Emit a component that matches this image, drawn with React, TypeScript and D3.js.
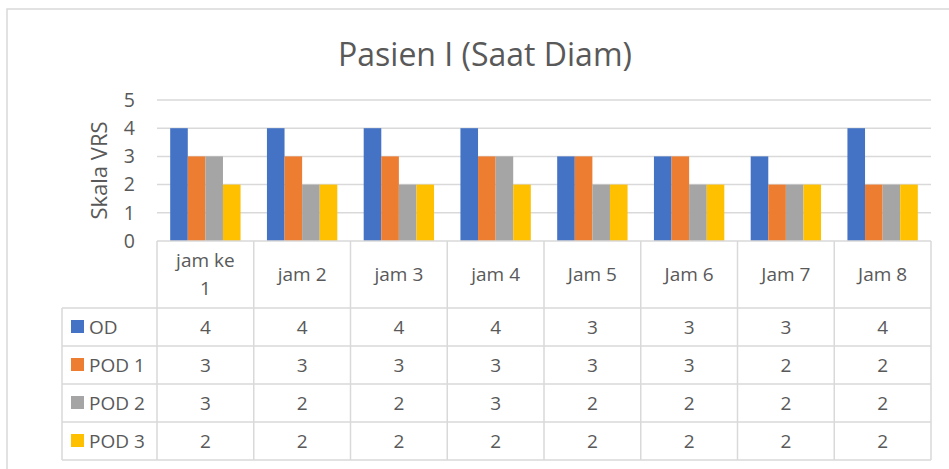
import * as d3 from 'd3'

const categories = ['jam ke\n1', 'jam 2', 'jam 3', 'jam 4', 'Jam 5', 'Jam 6', 'Jam 7', 'Jam 8']
const seriesNames = ['OD', 'POD 1', 'POD 2', 'POD 3']
const seriesColors = ['#4472c4', '#ed7d31', '#a5a5a5', '#ffc000']
const od = [4, 4, 4, 4, 3, 3, 3, 4]
const pod1 = [3, 3, 3, 3, 3, 3, 2, 2]
const pod2 = [3, 2, 2, 3, 2, 2, 2, 2]
const pod3 = [2, 2, 2, 2, 2, 2, 2, 2]
const yTicks = [0, 1, 2, 3, 4, 5]

const values = [od, pod1, pod2, pod3]

const W = 949
const H = 469
const plotLeft = 157
const plotRight = 931
const plotTop = 100
const plotBottom = 241
const legendLeft = 62
const headerBottom = 308
const rowH = 38
const grid = '#d9d9d9'
const textColor = '#595959'
const font = '"Open Sans", "Liberation Sans", sans-serif'
const tableFont = 19

export default function App() {
  const x = d3.scaleBand<string>().domain(categories).range([plotLeft, plotRight]).padding(0)
  const y = d3.scaleLinear().domain([0, 5]).range([plotBottom, plotTop])
  const bw = x.bandwidth()
  const barW = bw / 5.5
  const sub = d3
    .scaleBand<string>()
    .domain(seriesNames)
    .range([barW * 0.75, barW * 4.75])
    .padding(0)

  const rowsY = seriesNames.map((_, i) => headerBottom + i * rowH)
  const tableBottom = headerBottom + seriesNames.length * rowH

  return (
    <svg
      width={W}
      height={H}
      style={{ position: 'absolute', left: 0, top: 0, background: '#fff' }}
      fontFamily={font}
    >
      <rect x={7} y={9} width={W} height={H} fill="#fff" stroke={grid} strokeWidth={1.5} />
      <text x={485} y={66} textAnchor="middle" fontSize={32} fill={textColor}>
        Pasien I (Saat Diam)
      </text>

      {yTicks.map((t) => (
        <g key={t}>
          {t > 0 && (
            <line x1={plotLeft} x2={plotRight} y1={y(t)} y2={y(t)} stroke={grid} strokeWidth={1.5} />
          )}
          <text x={135} y={y(t)} dy="0.35em" textAnchor="end" fontSize={19.5} fill={textColor}>
            {t}
          </text>
        </g>
      ))}
      <text
        transform={`translate(107,${(plotTop + plotBottom) / 2}) rotate(-90)`}
        textAnchor="middle"
        fontSize={22}
        fill={textColor}
      >
        Skala VRS
      </text>

      {values.map((vals, si) =>
        vals.map((v, ci) => (
          <rect
            key={`${si}-${ci}`}
            x={(x(categories[ci]) ?? 0) + (sub(seriesNames[si]) ?? 0)}
            y={y(v)}
            width={sub.bandwidth()}
            height={y(0) - y(v)}
            fill={seriesColors[si]}
          />
        ))
      )}

      {/* data table */}
      <g stroke={grid} strokeWidth={1.5}>
        <line x1={plotLeft} x2={plotRight} y1={plotBottom} y2={plotBottom} />
        {rowsY.concat([tableBottom]).map((ry) => (
          <line key={ry} x1={legendLeft} x2={plotRight} y1={ry} y2={ry} />
        ))}
        <line x1={legendLeft} x2={legendLeft} y1={headerBottom} y2={tableBottom} />
        {categories.map((c) => (
          <line key={c} x1={x(c)} x2={x(c)} y1={plotBottom} y2={tableBottom} />
        ))}
        <line x1={plotRight} x2={plotRight} y1={plotBottom} y2={tableBottom} />
      </g>

      {categories.map((c) => {
        const lines = c.split('\n')
        const cx = (x(c) ?? 0) + bw / 2
        const cy = (plotBottom + headerBottom) / 2
        return (
          <text key={c} x={cx} textAnchor="middle" fontSize={tableFont} fill={textColor}>
            {lines.map((l, i) => (
              <tspan key={i} x={cx} y={cy + (i - (lines.length - 1) / 2) * 28} dy="0.35em">
                {l}
              </tspan>
            ))}
          </text>
        )
      })}

      {seriesNames.map((s, si) => (
        <g key={s}>
          <rect x={71} y={rowsY[si] + rowH / 2 - 7} width={13} height={13} fill={seriesColors[si]} />
          <text x={89} y={rowsY[si] + rowH / 2} dy="0.35em" fontSize={tableFont} fill={textColor}>
            {s}
          </text>
          {values[si].map((v, ci) => (
            <text
              key={ci}
              x={(x(categories[ci]) ?? 0) + bw / 2}
              y={rowsY[si] + rowH / 2}
              dy="0.35em"
              textAnchor="middle"
              fontSize={tableFont}
              fill={textColor}
            >
              {v}
            </text>
          ))}
        </g>
      ))}
    </svg>
  )
}
